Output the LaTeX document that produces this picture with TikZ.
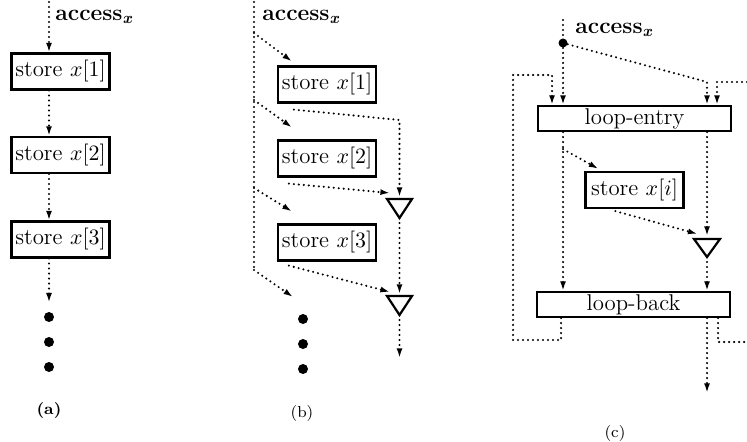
\documentclass[tikz,border=0pt]{standalone}
\usepackage{amsmath}
\usetikzlibrary{arrows.meta,calc}
\newcommand{\accx}{\textbf{access}$_{\text{\bfseries\itshape x}}$}
\begin{document}
\begin{tikzpicture}[x=0.5pt,y=-0.5pt,
  dotl/.style={line width=1.15pt,dash pattern=on 0pt off 2.5pt,line cap=round},
  conn/.style={dotl,-{Latex[length=4.8pt,width=3pt]}},
  txt/.style={font=\fontsize{11.4}{13}\selectfont},
  box/.style={txt,draw,line width=1.1pt,inner sep=1pt,minimum width=49pt,minimum height=18pt},
  wide/.style={txt,draw,line width=1.1pt,inner sep=1pt,minimum width=96.5pt,minimum height=12.5pt},
  lbl/.style={txt,anchor=west,inner sep=0pt},
  bigdot/.style={circle,fill,inner sep=0pt,minimum size=5pt},
  capt/.style={font=\fontsize{8}{9}\selectfont,inner sep=0pt},
  tri/.style={draw,line width=1.1pt,line join=miter}]
\useasboundingbox (0,0) rectangle (747,442);

% ---------- (a) ----------
\coordinate (a0) at (49,2);
\node[lbl] (al) at (55,17) {\accx};
\node[box] (a1) at (60.5,71.5) {store $x[1]$};
\node[box] (a2) at (60.5,155) {store $x[2]$};
\node[box] (a3) at (60.5,239.5) {store $x[3]$};
\node[bigdot] (ad1) at (49,317) {};
\node[bigdot] (ad2) at (49,342) {};
\node[bigdot] (ad3) at (49,367) {};
\draw[conn] (a0) -- (a0 |- a1.north);
\draw[conn] (a1.south -| a0) -- (a0 |- a2.north);
\draw[conn] (a2.south -| a0) -- (a0 |- a3.north);
\draw[conn] (a3.south -| a0) -- ($(ad1.north)+(0,-9)$);
\node[capt] (capa) at (49,410) {\textbf{(a)}};

% ---------- (b) ----------
\coordinate (b0) at (254,2);
\coordinate (bL) at (254,270);
\coordinate (bs1) at (254,33);
\coordinate (bs2) at (254,100);
\coordinate (bs3) at (254,188);
\node[lbl] (bl) at (262,17) {\accx};
\node[box] (b1) at (327,84.5) {store $x[1]$};
\node[box] (b2) at (327,158.5) {store $x[2]$};
\node[box] (b3) at (327,242.5) {store $x[3]$};
\node[bigdot] (bd1) at (303,319) {};
\node[bigdot] (bd2) at (303,344) {};
\node[bigdot] (bd3) at (303,369) {};
\coordinate (t1) at (399.5,199);
\coordinate (t1b) at (399.5,218);
\coordinate (t2) at (399.5,296);
\coordinate (t2b) at (399.5,315);
\coordinate (bc1) at (399.5,120);
\coordinate (bend) at (399.5,358);
\draw[tri] (t1) ++(-12.5,0) -- ++(25,0) -- ++(-12.5,19) -- cycle;
\draw[tri] (t2) ++(-12.5,0) -- ++(25,0) -- ++(-12.5,19) -- cycle;
\draw[dotl] (b0) -- (bL);
\draw[conn] (bs1) -- ($(b1.north west)+(15,-4)$);
\draw[conn] (bs2) -- ($(b2.north west)+(15,-12)$);
\draw[conn] (bs3) -- ($(b3.north west)+(15,-12)$);
\draw[conn] (bL) -- ($(bd1)+(-10,-22)$);
\draw[conn] ($(b1.south west)+(17,6)$) -- (bc1) -- ($(t1)+(0,-2)$);
\draw[conn] ($(b2.south west)+(12,6)$) -- ($(t1)+(-9.5,-6)$);
\draw[conn] (t1b) -- ($(t2)+(0,-2)$);
\draw[conn] ($(b3.south west)+(12,4)$) -- ($(t2)+(-9.5,-4)$);
\draw[conn] (t2b) -- (bend);
\node[capt] (capb) at (302,413) {(b)};

% ---------- (c) ----------
\coordinate (c0) at (563,20);
\node[lbl] (cl) at (575,30) {\accx};
\node[bigdot,minimum size=4.5pt] (cd) at (563,43) {};
\node[wide] (le) at (634.5,118.5) {loop-entry};
\node[box] (sx) at (634.5,190) {store $x[i]$};
\node[wide] (lb) at (633.5,304.5) {loop-back};
\coordinate (tc) at (707,239);
\coordinate (tcb) at (707,257);
\draw[tri] (tc) ++(-13,0) -- ++(26,0) -- ++(-13,18) -- cycle;
\coordinate (cr1) at (707,82);
\coordinate (cr2) at (717,82);
\coordinate (ce) at (747,82);
\coordinate (cl1) at (561,340);
\coordinate (cl2) at (513,340);
\coordinate (cl3) at (513,75);
\coordinate (cl4) at (552,75);
\coordinate (cr3) at (718,342);
\coordinate (ce2) at (747,342);
\coordinate (cend) at (707,393);
\draw[dotl] (c0) -- (cd);
\draw[conn] (cd) -- (cd |- le.north);
\draw[conn] (cd) -- (cr1) -- (cr1 |- le.north);
\draw[conn] (ce) -- (cr2) -- (cr2 |- le.north);
\draw[conn] (lb.south -| cl1) -- (cl1) -- (cl2) -- (cl3) -- (cl4) -- (cl4 |- le.north);
\draw[conn] (le.south -| cd) -- (cd |- lb.north);
\draw[conn] ($(le.south -| cd)+(0,17)$) -- ($(sx.north west)+(14,-2)$);
\draw[conn] ($(sx.south west)+(31,2)$) -- ($(tc)+(-9.5,-5)$);
\draw[conn] (le.south -| tc) -- ($(tc)+(0,-3)$);
\draw[conn] (tcb) -- (tcb |- lb.north);
\draw[conn] (lb.south -| tc) -- (cend);
\draw[dotl] (lb.south -| cr3) -- (cr3) -- (ce2);
\node[capt] (capc) at (615,433) {(c)};
\end{tikzpicture}
\end{document}
